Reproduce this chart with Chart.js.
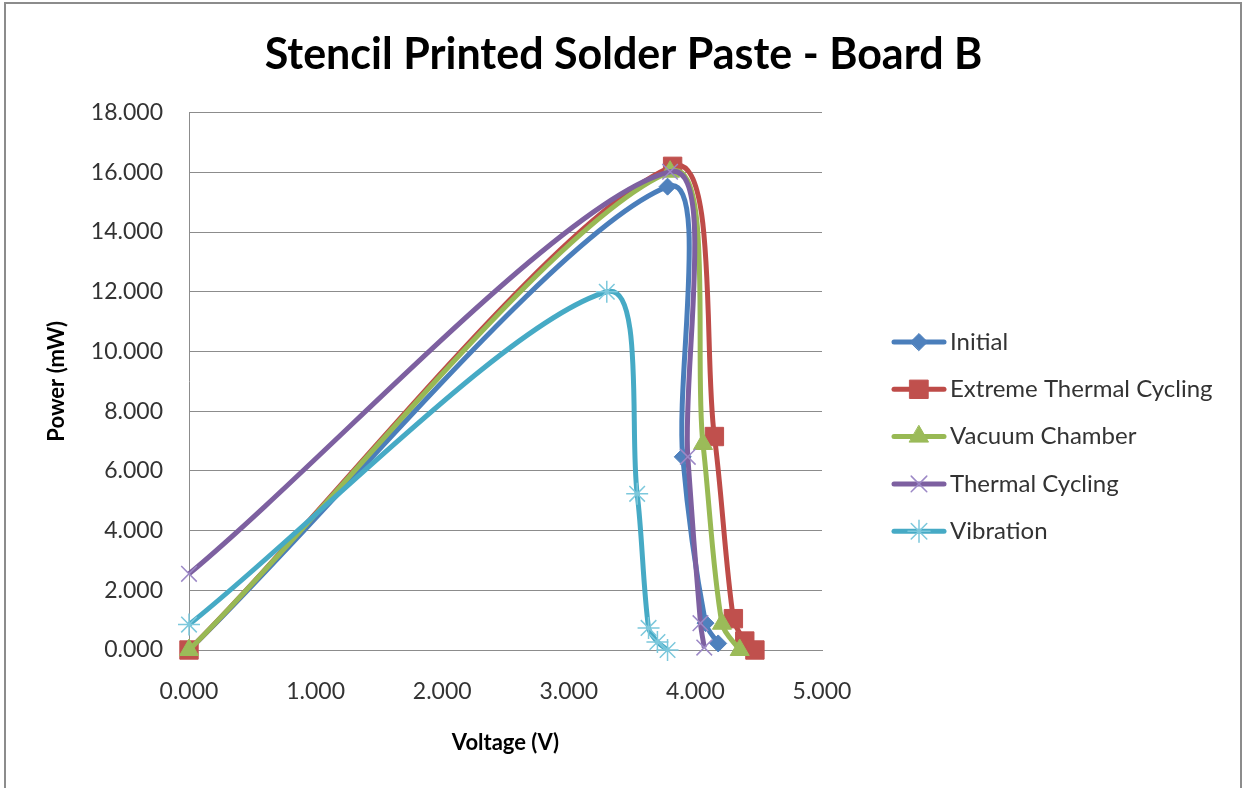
<!DOCTYPE html>
<html>
<head>
<meta charset="utf-8">
<script src="https://cdn.jsdelivr.net/npm/chart.js@4.4.1/dist/chart.umd.min.js"></script>
<style>
  html, body { margin: 0; padding: 0; background: #fff; }
  #wrap { width: 1247px; height: 788px; }
</style>
</head>
<body>
<div id="wrap"><canvas id="chart" width="1247" height="788"></canvas></div>
<script>
// Data (voltage in V, power in mW)
const seriesNames = ['Initial', 'Extreme Thermal Cycling', 'Vacuum Chamber', 'Thermal Cycling', 'Vibration'];

const initialV = [0.000, 3.78, 3.90, 4.08, 4.18];
const initialP = [0.000, 15.52, 6.47, 0.90, 0.22];

const extremeV = [0.000, 3.82, 4.15, 4.30, 4.39, 4.47];
const extremeP = [0.000, 16.20, 7.15, 1.05, 0.30, 0.000];

const vacuumV = [0.000, 3.80, 4.06, 4.21, 4.35];
const vacuumP = [0.000, 16.02, 6.90, 0.88, 0.000];

const thermalV = [0.000, 3.80, 3.94, 4.04, 4.07];
const thermalP = [2.55, 16.02, 6.47, 0.90, 0.08];

const vibrationV = [0.000, 3.30, 3.54, 3.63, 3.70, 3.78];
const vibrationP = [0.85, 12.00, 5.23, 0.74, 0.27, 0.000];

const yTicks = [0, 2, 4, 6, 8, 10, 12, 14, 16, 18];
const xTicks = [0, 1, 2, 3, 4, 5];

// Styling per series (Excel 2007 palette)
const lineColors = ['#4a7ebb', '#be4b48', '#98b954', '#7d60a0', '#46aac5'];
const markColors = ['#4f81bd', '#c0504d', '#9bbb59', '#9c88c6', '#7cc8dc'];
const markStyles = ['rectRot', 'rect', 'triangle', 'crossRot', 'star'];
const markSizes = [8.5, 13, 11, 11, 11];

const toPoints = (xs, ys) => xs.map((x, i) => ({ x: x, y: ys[i] }));
const allPoints = [
  toPoints(initialV, initialP),
  toPoints(extremeV, extremeP),
  toPoints(vacuumV, vacuumP),
  toPoints(thermalV, thermalP),
  toPoints(vibrationV, vibrationP)
];

const datasets = seriesNames.map((name, i) => ({
  label: name,
  data: allPoints[i],
  showLine: true,
  clip: false,
  borderColor: lineColors[i],
  borderWidth: 5,
  tension: 0.3,
  pointStyle: markStyles[i],
  pointRadius: markSizes[i],
  pointHoverRadius: markSizes[i],
  pointBackgroundColor: markColors[i],
  pointBorderColor: markColors[i],
  pointBorderWidth: (markStyles[i] === 'crossRot' || markStyles[i] === 'star') ? 1.5 : 1,
  order: seriesNames.length - i
}));

// Frame around the whole chart, plus the legend on the right
const framePlugin = {
  id: 'frame',
  beforeDraw(chart) {
    const ctx = chart.ctx;
    ctx.save();
    ctx.fillStyle = '#fff';
    ctx.fillRect(0, 0, chart.width, chart.height);
    ctx.strokeStyle = '#8c8c8c';
    ctx.lineWidth = 2;
    ctx.strokeRect(5, 3, 1236, 820);
    ctx.restore();
  },
  afterDraw(chart) {
    const ctx = chart.ctx;
    const helpers = Chart.helpers;
    ctx.save();
    seriesNames.forEach((name, i) => {
      const y = 342 + i * 47.3;
      ctx.strokeStyle = lineColors[i];
      ctx.lineWidth = 5;
      ctx.lineCap = 'round';
      ctx.beginPath();
      ctx.moveTo(894, y);
      ctx.lineTo(944, y);
      ctx.stroke();
      ctx.fillStyle = markColors[i];
      ctx.strokeStyle = markColors[i];
      ctx.lineWidth = datasets[i].pointBorderWidth;
      helpers.drawPoint(ctx, { pointStyle: markStyles[i], radius: markSizes[i], rotation: 0, borderWidth: datasets[i].pointBorderWidth }, 919, y);
      ctx.fillStyle = '#333';
      ctx.font = '24px Lato';
      ctx.textAlign = 'left';
      ctx.textBaseline = 'middle';
      ctx.fillText(name, 950, y);
    });
    ctx.restore();
  }
};

new Chart(document.getElementById('chart'), {
  type: 'scatter',
  data: { datasets: datasets },
  plugins: [framePlugin],
  options: {
    responsive: false,
    animation: false,
    layout: { padding: 0 },
    plugins: {
      legend: { display: false },
      tooltip: { enabled: false },
      title: {
        display: true,
        text: 'Stencil Printed Solder Paste - Board B',
        color: '#000',
        font: { family: 'Lato', size: 43, weight: 'bold' },
        padding: { top: 29, bottom: 32 }
      }
    },
    scales: {
      x: {
        type: 'linear',
        min: 0,
        max: 5,
        afterBuildTicks: (scale) => { scale.ticks = xTicks.map(v => ({ value: v })); },
        afterFit: (scale) => { scale.height = 138; },
        grid: { display: false, drawTicks: false },
        border: { display: true, color: '#8c8c8c', width: 1 },
        ticks: {
          padding: 28,
          color: '#333',
          font: { family: 'Lato', size: 23 },
          callback: (v) => Number(v).toFixed(3)
        },
        title: {
          display: true,
          text: 'Voltage (V)',
          color: '#000',
          font: { family: 'Lato', size: 22, weight: 'bold' },
          padding: { top: 0, bottom: 32 }
        }
      },
      y: {
        type: 'linear',
        min: 0,
        max: 18,
        afterBuildTicks: (scale) => { scale.ticks = yTicks.map(v => ({ value: v })); },
        afterFit: (scale) => { scale.width = 189; },
        grid: { display: true, drawTicks: false, color: '#8c8c8c', lineWidth: 1 },
        border: { display: true, color: '#8c8c8c', width: 1 },
        ticks: {
          padding: 26,
          color: '#333',
          font: { family: 'Lato', size: 23 },
          callback: (v) => Number(v).toFixed(3)
        },
        title: {
          display: true,
          text: 'Power (mW)',
          color: '#000',
          font: { family: 'Lato', size: 22, weight: 'bold' },
          padding: { top: 44, bottom: 0 }
        }
      },
      // empty axis on the right that reserves the room for the legend
      side: {
        type: 'linear',
        position: 'right',
        afterFit: (scale) => { scale.width = 425; },
        grid: { display: false, drawTicks: false },
        border: { display: false },
        ticks: { display: false }
      }
    }
  }
});
</script>
</body>
</html>
